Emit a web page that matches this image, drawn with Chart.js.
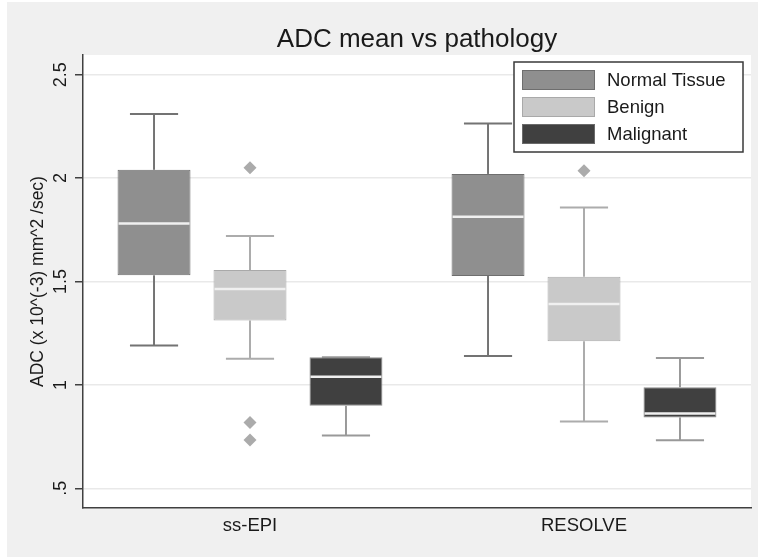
<!DOCTYPE html>
<html>
<head>
<meta charset="utf-8">
<script src="https://cdn.jsdelivr.net/npm/chart.js@4"></script>
<style>
  html, body { margin: 0; padding: 0; background: #ffffff; }
  #wrap { position: absolute; left: 7px; top: 2px; width: 751px; height: 555px; background: #f0f0f0; }
  canvas { display: block; }
</style>
</head>
<body>
<div id="wrap"><canvas id="chart" width="751" height="555"></canvas></div>
<script>
// 分类与系列
const categories = ['ss-EPI', 'RESOLVE'];
const seriesNames = ['Normal Tissue', 'Benign', 'Malignant'];

// 箱线图数值（每个分类一个值）
const normalMin = [1.19, 1.14];
const normalQ1 = [1.53, 1.527];
const normalMedian = [1.78, 1.813];
const normalQ3 = [2.04, 2.02];
const normalMax = [2.31, 2.264];
const normalOutliers = [[], []];

const benignMin = [1.127, 0.823];
const benignQ1 = [1.311, 1.211];
const benignMedian = [1.464, 1.391];
const benignQ3 = [1.556, 1.523];
const benignMax = [1.72, 1.858];
const benignOutliers = [[2.05, 0.818, 0.734], [2.035]];

const malignantMin = [0.755, 0.733];
const malignantQ1 = [0.899, 0.843];
const malignantMedian = [1.04, 0.862];
const malignantQ3 = [1.134, 0.989];
const malignantMax = [1.134, 1.13];
const malignantOutliers = [[], []];

// 纵轴刻度
const yTickValues = [0.5, 1, 1.5, 2, 2.5];
const yTickLabels = ['.5', '1', '1.5', '2', '2.5'];

// 颜色
const fillColors = ['#8f8f8f', '#c9c9c9', '#404040'];
const borderColors = ['#6e6e6e', '#a9a9a9', '#8c8c8c'];
const whiskerColors = ['#737373', '#acacac', '#999999'];
const outlierColor = '#ababab';
const medianColor = '#f0f0f0';
const textColor = '#1a1a1a';
const fontFamily = '"Liberation Sans", Arial, Helvetica, sans-serif';

const stats = [
    { min: normalMin, q1: normalQ1, med: normalMedian, q3: normalQ3, max: normalMax, out: normalOutliers },
    { min: benignMin, q1: benignQ1, med: benignMedian, q3: benignQ3, max: benignMax, out: benignOutliers },
    { min: malignantMin, q1: malignantQ1, med: malignantMedian, q3: malignantQ3, max: malignantMax, out: malignantOutliers }
];

// 箱体用浮动柱 [q1, q3]
const datasets = seriesNames.map((name, i) => ({
    label: name,
    data: stats[i].q1.map((q, j) => [q, stats[i].q3[j]]),
    backgroundColor: fillColors[i],
    borderColor: borderColors[i],
    borderWidth: 1,
    borderSkipped: false,
    categoryPercentage: 0.862,
    barPercentage: 0.76
}));

function line(ctx, x1, y1, x2, y2) {
    ctx.beginPath();
    ctx.moveTo(x1, y1);
    ctx.lineTo(x2, y2);
    ctx.stroke();
}

// 背景、须线、中位数、离群点、标题、图例
const boxPlotPlugin = {
    id: 'boxPlot',
    beforeDraw(chart) {
        const { ctx, chartArea: a } = chart;
        ctx.save();
        ctx.fillStyle = '#ffffff';
        ctx.fillRect(a.left, a.top, a.right - a.left, a.bottom - a.top);
        ctx.restore();
    },
    beforeDatasetsDraw(chart) {
        const ctx = chart.ctx;
        const y = chart.scales.y;
        ctx.save();
        ctx.lineWidth = 2;
        stats.forEach((s, i) => {
            const meta = chart.getDatasetMeta(i);
            meta.data.forEach((bar, j) => {
                const cap = bar.width * 0.66;
                ctx.strokeStyle = whiskerColors[i];
                line(ctx, bar.x, y.getPixelForValue(s.q3[j]), bar.x, y.getPixelForValue(s.max[j]));
                line(ctx, bar.x, y.getPixelForValue(s.q1[j]), bar.x, y.getPixelForValue(s.min[j]));
                line(ctx, bar.x - cap / 2, y.getPixelForValue(s.max[j]), bar.x + cap / 2, y.getPixelForValue(s.max[j]));
                line(ctx, bar.x - cap / 2, y.getPixelForValue(s.min[j]), bar.x + cap / 2, y.getPixelForValue(s.min[j]));
            });
        });
        ctx.restore();
    },
    afterDatasetsDraw(chart) {
        const ctx = chart.ctx;
        const y = chart.scales.y;
        ctx.save();
        stats.forEach((s, i) => {
            const meta = chart.getDatasetMeta(i);
            meta.data.forEach((bar, j) => {
                // 中位数
                ctx.strokeStyle = medianColor;
                ctx.lineWidth = 2.5;
                const my = y.getPixelForValue(s.med[j]);
                line(ctx, bar.x - bar.width / 2 + 1, my, bar.x + bar.width / 2 - 1, my);
                // 离群点（菱形）
                ctx.fillStyle = outlierColor;
                s.out[j].forEach(v => {
                    const oy = y.getPixelForValue(v);
                    ctx.beginPath();
                    ctx.moveTo(bar.x, oy - 6.5);
                    ctx.lineTo(bar.x + 6.5, oy);
                    ctx.lineTo(bar.x, oy + 6.5);
                    ctx.lineTo(bar.x - 6.5, oy);
                    ctx.closePath();
                    ctx.fill();
                });
            });
        });
        ctx.restore();
    },
    afterDraw(chart) {
        const { ctx, chartArea: a } = chart;
        const y = chart.scales.y;
        ctx.save();

        // 纵轴刻度标签（竖排）
        ctx.fillStyle = textColor;
        ctx.font = '18px ' + fontFamily;
        ctx.textAlign = 'center';
        ctx.textBaseline = 'middle';
        yTickValues.forEach((v, k) => {
            ctx.save();
            ctx.translate(a.left - 22, y.getPixelForValue(v));
            ctx.rotate(-Math.PI / 2);
            ctx.fillText(yTickLabels[k], 0, 0);
            ctx.restore();
        });

        // 标题
        ctx.font = '26px ' + fontFamily;
        ctx.fillText('ADC mean vs pathology', (a.left + a.right) / 2, a.top - 15);

        // 图例
        const lx = a.right - 237, ly = a.top + 7, lw = 229, lh = 90;
        ctx.fillStyle = '#ffffff';
        ctx.fillRect(lx, ly, lw, lh);
        ctx.strokeStyle = '#3a3a3a';
        ctx.lineWidth = 1.5;
        ctx.strokeRect(lx, ly, lw, lh);
        ctx.font = '18.5px ' + fontFamily;
        ctx.textAlign = 'left';
        seriesNames.forEach((name, i) => {
            const rowY = ly + 18 + i * 27;
            ctx.fillStyle = fillColors[i];
            ctx.fillRect(lx + 8, rowY - 10, 73, 20);
            ctx.strokeStyle = i === 2 ? '#6a6a6a' : borderColors[i];
            ctx.lineWidth = 1;
            ctx.strokeRect(lx + 8.5, rowY - 9.5, 72, 19);
            ctx.fillStyle = textColor;
            ctx.fillText(name, lx + 93, rowY + 1);
        });
        ctx.restore();
    }
};

new Chart(document.getElementById('chart'), {
    type: 'bar',
    data: { labels: categories, datasets: datasets },
    options: {
        responsive: false,
        animation: false,
        layout: { padding: { top: 53, right: 7, left: 0, bottom: 0 } },
        plugins: {
            legend: { display: false },
            title: { display: false },
            tooltip: { enabled: false }
        },
        scales: {
            x: {
                grid: { display: true, color: 'transparent', drawTicks: false },
                border: { display: true, color: '#404040', width: 1.5 },
                ticks: { color: textColor, font: { family: fontFamily, size: 18.5 }, padding: 7 },
                afterFit(scale) { scale.height = 49; }
            },
            y: {
                min: 0.405,
                max: 2.595,
                afterBuildTicks(scale) { scale.ticks = yTickValues.map(v => ({ value: v })); },
                grid: { color: '#e9e9e9', lineWidth: 1.5, tickColor: '#404040', tickLength: 8 },
                border: { display: true, color: '#404040', width: 1.5 },
                ticks: { display: false },
                title: {
                    display: true,
                    text: 'ADC (x 10^(-3) mm^2 /sec)',
                    color: textColor,
                    font: { family: fontFamily, size: 17.5 },
                    padding: { top: 21, bottom: 0 }
                },
                afterFit(scale) { scale.width = 76; }
            }
        }
    },
    plugins: [boxPlotPlugin]
});
</script>
</body>
</html>
